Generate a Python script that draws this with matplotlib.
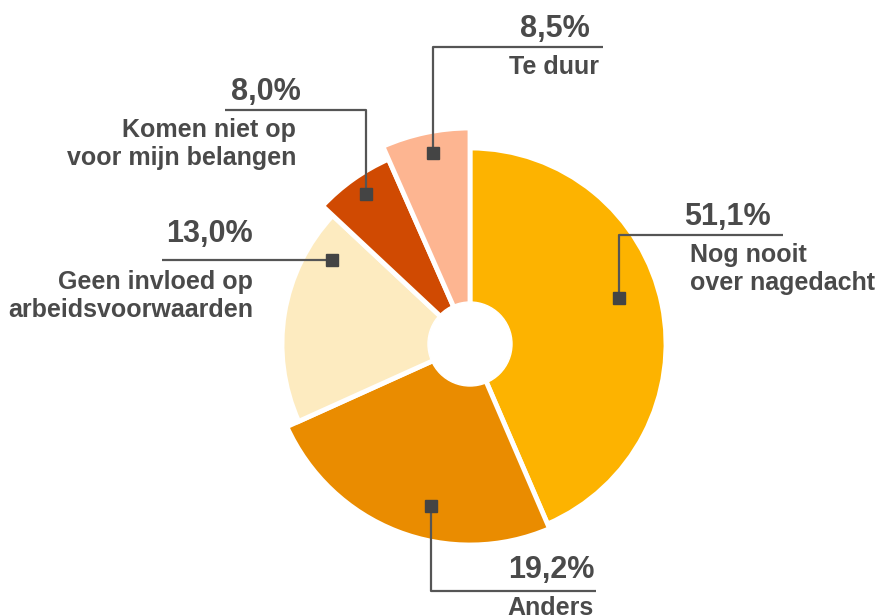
import matplotlib.pyplot as plt

# slice sizes as drawn (degrees), printed labels kept separately
categories = ["Nog nooit\nover nagedacht", "Anders", "Geen invloed op\narbeidsvoorwaarden",
              "Komen niet op\nvoor mijn belangen", "Te duur"]
slice_sizes = [156.7, 89.0, 67.4, 23.1, 23.8]
pct_labels = ["51,1%", "19,2%", "13,0%", "8,0%", "8,5%"]
colors = ["#FDB300", "#EA8C00", "#FDEBC0", "#D04A02", "#FDB591"]

W, H = 876, 615


def Y(y):
    # picture rows run downwards, axes y runs upwards
    return H - y


def main():
    plt.rcParams["font.family"] = ["Liberation Sans", "DejaVu Sans"]
    fig = plt.figure(figsize=(W / 100, H / 100), dpi=100)
    ax = fig.add_axes([0, 0, 1, 1])

    cx, cy = 470, Y(344)
    wedges, _ = ax.pie(slice_sizes, colors=colors, startangle=90, counterclock=False,
                       center=(cx, cy), radius=196,
                       wedgeprops=dict(edgecolor="white", linewidth=3.5))
    # each slice has its own outer radius in the reference
    radii = [196, 201, 188, 202, 216]
    for w, r in zip(wedges, radii):
        w.set_radius(r)
    ax.add_patch(plt.Circle((cx, cy), 42, color="white", zorder=3))

    ax.set_xlim(0, W)
    ax.set_ylim(0, H)
    ax.set_aspect("auto")
    ax.axis("off")

    grey = "#4a4a4a"
    line_grey = "#555555"
    # connector paths: marker in the slice, then out to the label rule
    paths = [
        [(619, 298), (619, 235), (783, 235)],
        [(431, 506), (431, 591), (596, 591)],
        [(332, 260), (162, 260)],
        [(366, 194), (366, 110), (225, 110)],
        [(433, 153), (433, 47), (603, 47)],
    ]
    for p in paths:
        xs = [q[0] for q in p]
        ys = [Y(q[1]) for q in p]
        ax.plot(xs, ys, color=line_grey, lw=1.6, zorder=4, solid_capstyle="butt")
        ax.plot(xs[0], ys[0], "s", color="#444444", ms=8, zorder=5)

    # (x, baseline y, ha) of percentage, (x, top y, ha) of category text
    pct_pos = [(771, 225, "right"), (594, 578, "right"), (253, 242, "right"),
               (301, 100, "right"), (590, 37, "right")]
    lab_pos = [(690, 243, "left"), (594, 596, "right"), (253, 270, "right"),
               (296, 118, "right"), (599, 55, "right")]
    for i in range(len(categories)):
        x, y, ha = pct_pos[i]
        ax.text(x, Y(y), pct_labels[i], ha=ha, va="baseline", fontsize=22,
                fontweight="bold", color=grey, zorder=6)
        x, y, ha = lab_pos[i]
        ax.text(x, Y(y), categories[i], ha=ha, va="top", fontsize=18,
                fontweight="bold", color=grey, multialignment=ha,
                linespacing=1.2, zorder=6)

    fig.savefig("out.png", dpi=100, facecolor="white")


if __name__ == "__main__":
    main()
